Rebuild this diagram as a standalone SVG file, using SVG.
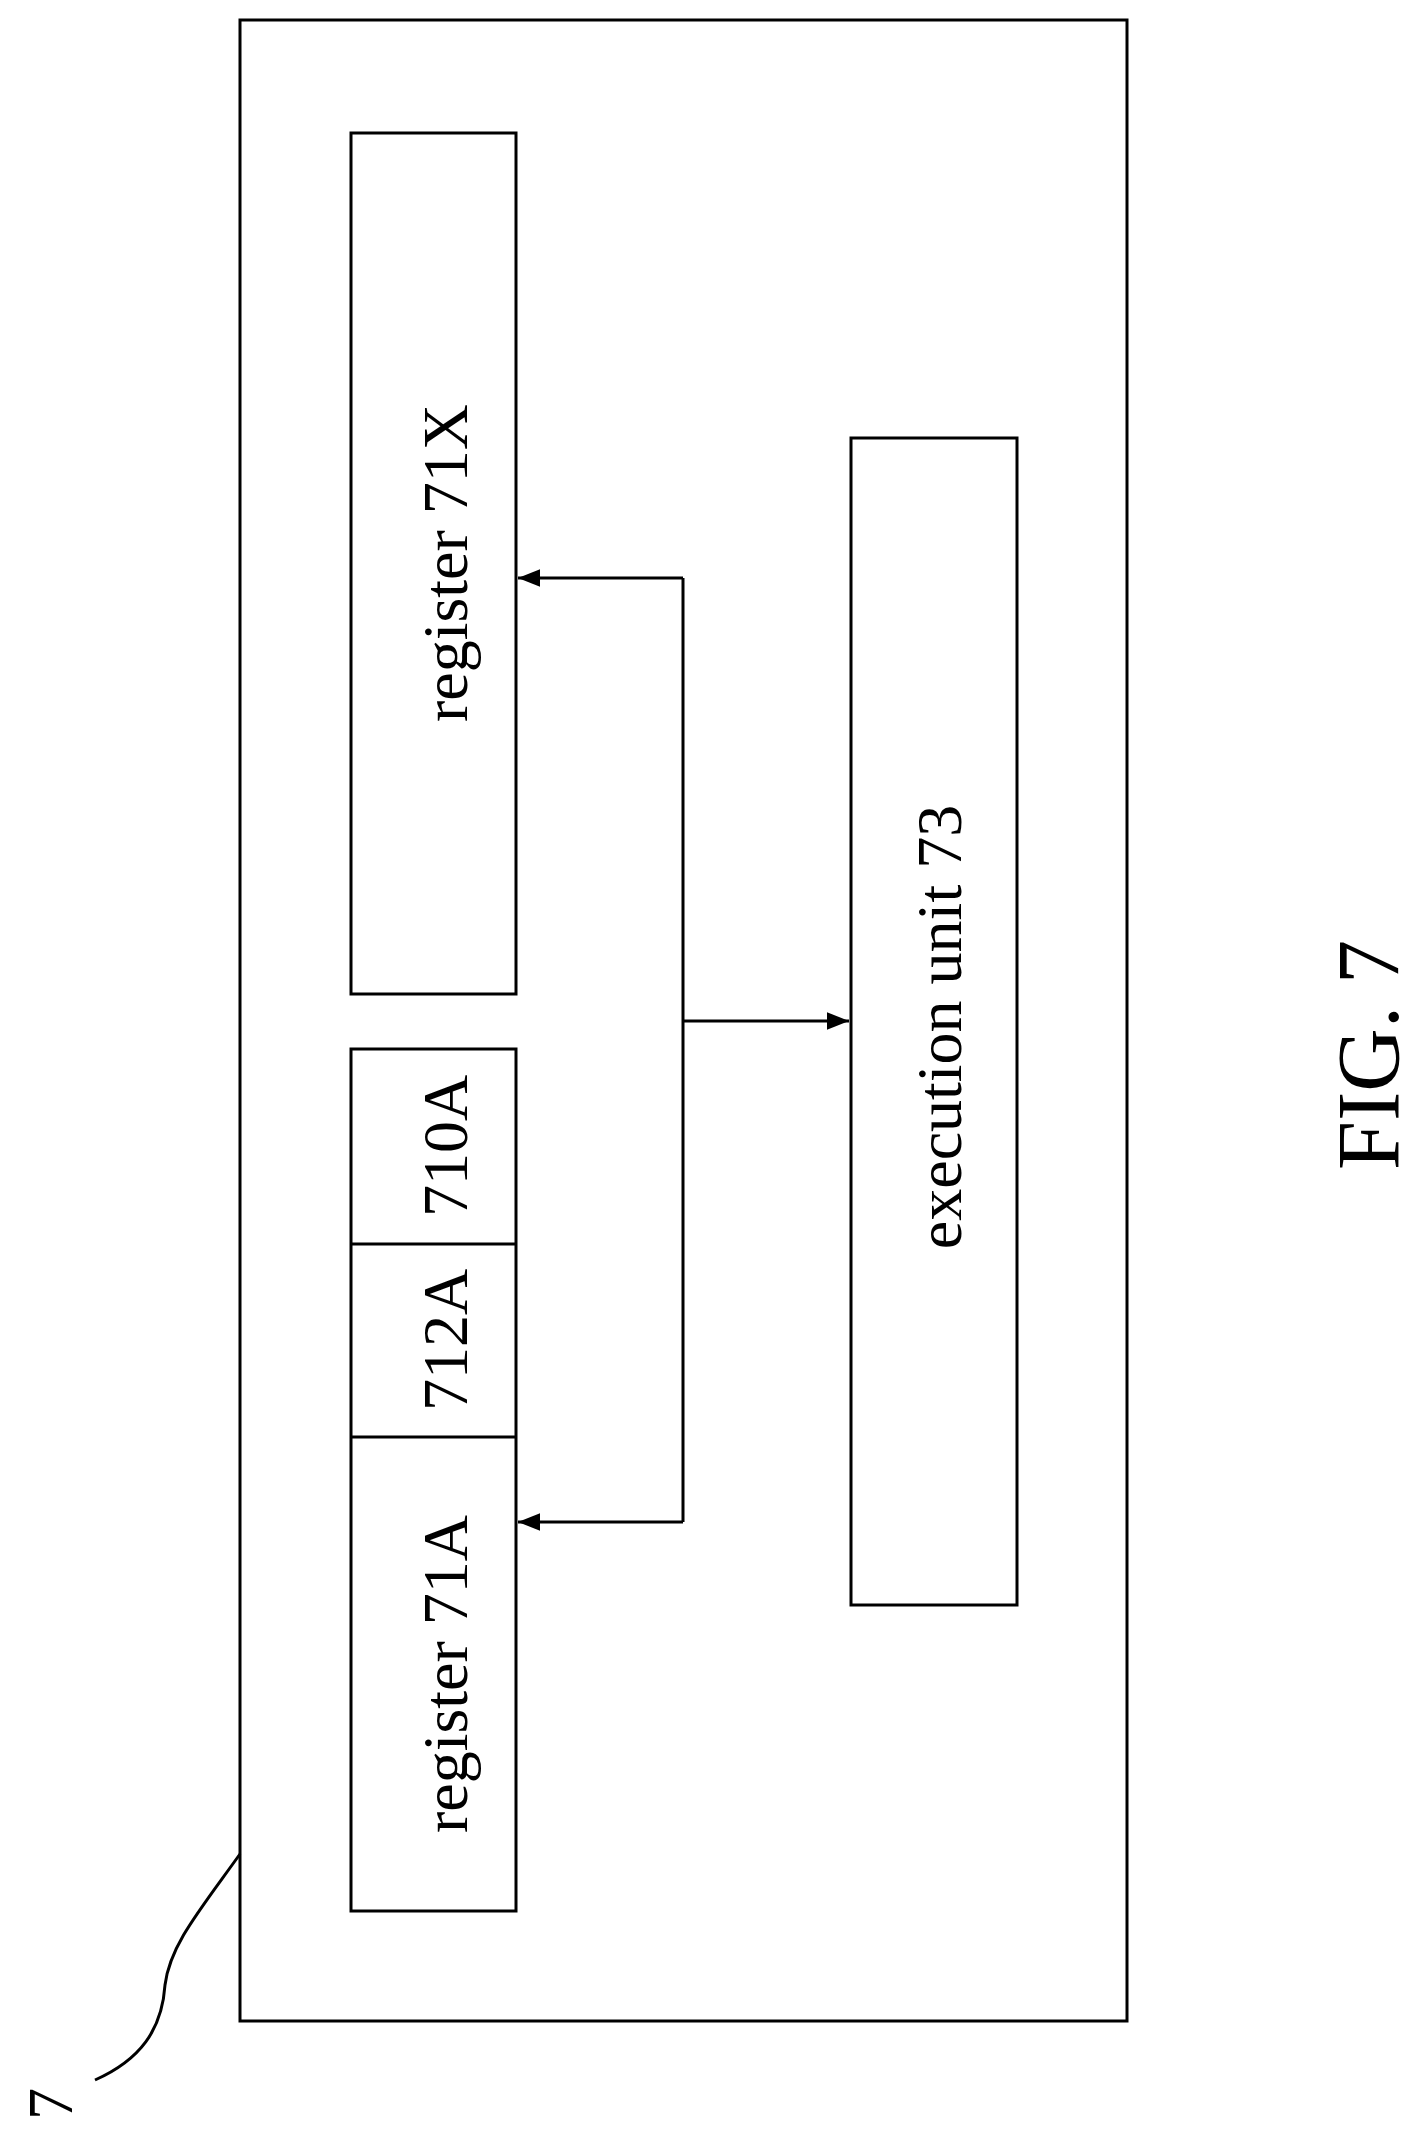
<svg xmlns="http://www.w3.org/2000/svg" width="1422" height="2133" viewBox="0 0 1422 2133">
<defs>
<style>
.b{fill:none;stroke:#000;stroke-width:3}
.t{font-family:"Liberation Serif",serif;font-size:64px;text-anchor:middle;dominant-baseline:central;fill:#000}
.c{fill:none;stroke:#000;stroke-width:3}
</style>
<marker id="a" viewBox="0 0 10 10" refX="10" refY="5" markerWidth="8" markerHeight="8" markerUnits="userSpaceOnUse" orient="auto">
<path d="M0,0L10,5L0,10z" fill="#000"/>
</marker>
<marker id="ah" viewBox="0 0 10 10" refX="10" refY="5" markerWidth="22" markerHeight="22" markerUnits="userSpaceOnUse" orient="auto"><path d="M0,1L10,5L0,9z" fill="#000"/></marker>
</defs>
<rect width="1422" height="2133" fill="#fff"/>
<g id="outer"><rect class="b" x="240" y="20" width="887" height="2001"/></g>
<g id="reg71X"><rect class="b" x="351" y="133" width="165" height="861"/><text class="t" transform="translate(445,563) rotate(-90)">register 71X</text></g>
<g id="reg71A"><rect class="b" x="351" y="1049" width="165" height="862"/>
<line class="b" x1="351" y1="1244" x2="516" y2="1244"/><line class="b" x1="351" y1="1437" x2="516" y2="1437"/>
<text class="t" transform="translate(445,1674) rotate(-90)">register 71A</text>
<text class="t" transform="translate(445,1340) rotate(-90)">712A</text>
<text class="t" transform="translate(445,1146) rotate(-90)">710A</text></g>
<g id="exec"><rect class="b" x="851" y="438" width="166" height="1167"/><text class="t" transform="translate(939,1027) rotate(-90)">execution unit 73</text></g>
<g id="connectors">
<polyline class="c" points="683,578 683,1522"/>
<line class="c" x1="683" y1="578" x2="518" y2="578" marker-end="url(#ah)"/>
<line class="c" x1="683" y1="1522" x2="518" y2="1522" marker-end="url(#ah)"/>
<line class="c" x1="683" y1="1021" x2="849" y2="1021" marker-end="url(#ah)"/>
<path class="c" d="M240,1854 C200,1910 170,1945 165,1985 C162,2030 140,2060 95,2080"/>
</g>
<g id="label7"><text class="t" transform="translate(50,2104) rotate(-90)">7</text></g>
<g id="fig"><text class="t" style="font-size:88px" transform="translate(1368,1055) rotate(-90)">FIG. 7</text></g>
</svg>
